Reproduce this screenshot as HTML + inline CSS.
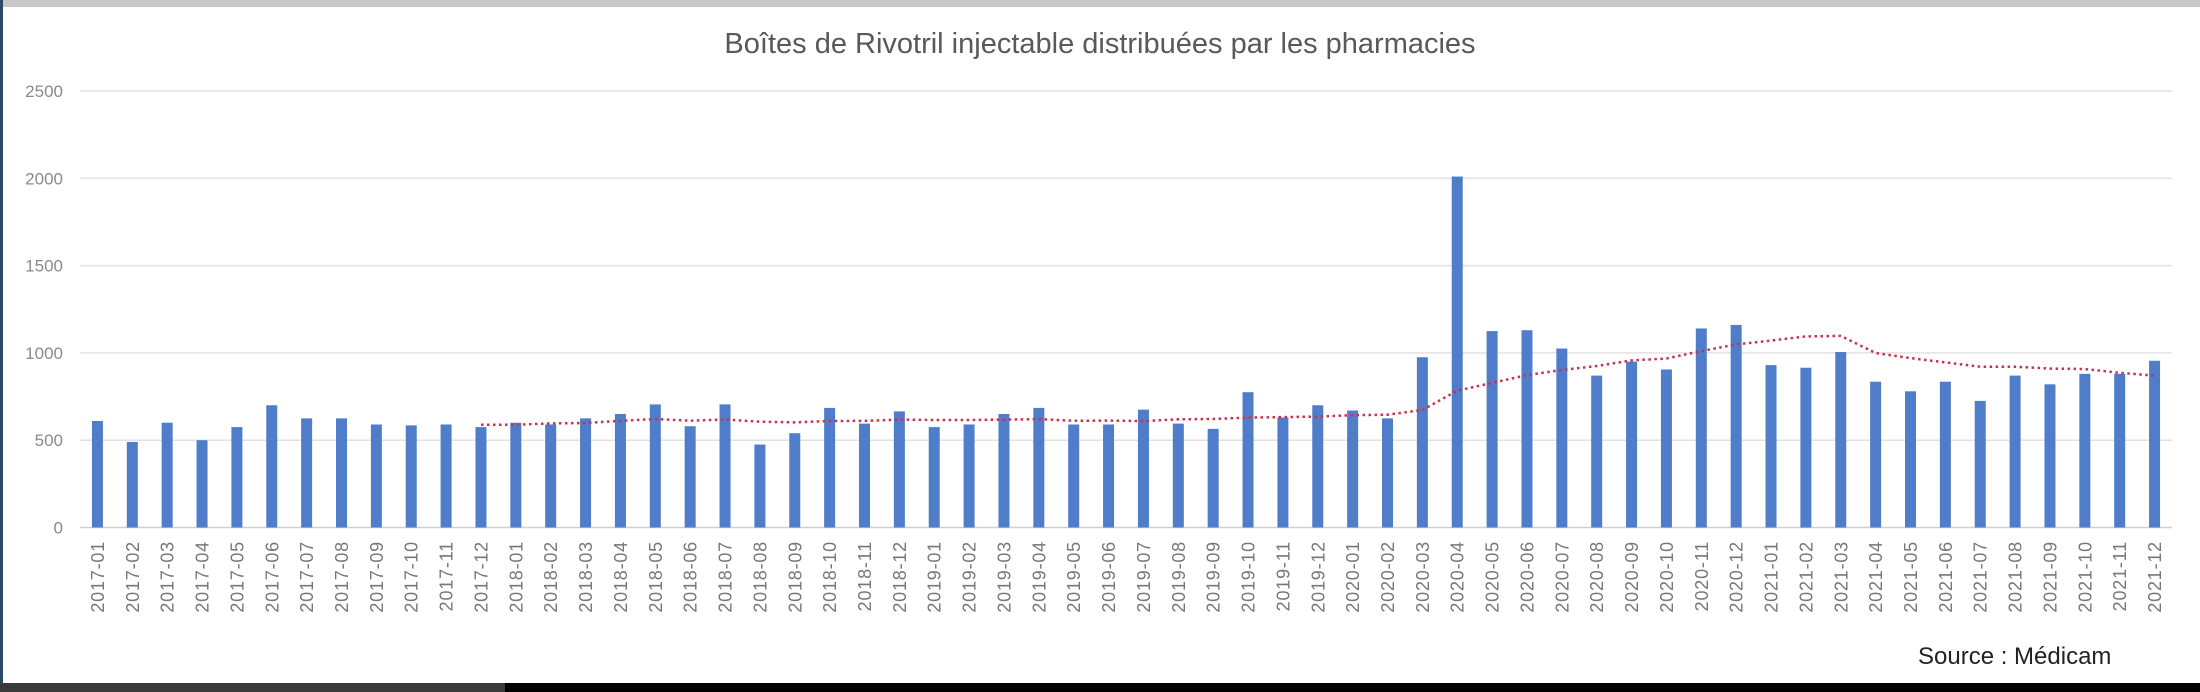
<!DOCTYPE html>
<html><head><meta charset="utf-8"><style>
html,body{margin:0;padding:0;background:#fff;}
body{width:2200px;height:692px;overflow:hidden;position:relative;font-family:"Liberation Sans",sans-serif;}
</style></head><body>
<svg id="c" width="2200" height="692" xmlns="http://www.w3.org/2000/svg" style="position:absolute;left:0;top:0">
<rect x="0" y="0" width="2200" height="692" fill="#fff"/>
<rect x="0" y="0" width="2200" height="7" fill="#c8c8c8"/>
<rect x="0" y="0" width="3" height="692" fill="#2a4a6a"/>
<rect x="0" y="683" width="2200" height="9" fill="#000"/>
<rect x="0" y="683" width="505" height="9" fill="#3a3a3a"/>
<text x="1100" y="53" text-anchor="middle" font-size="29" fill="#595959">Boîtes de Rivotril injectable distribuées par les pharmacies</text>
<g id="g"></g>
<text x="1918" y="664" font-size="24" fill="#222">Source : Médicam</text>
</svg>
<script>
var v=[610,490,600,500,575,700,625,625,590,585,590,575,
600,590,625,650,705,580,705,475,540,685,595,665,
575,590,650,685,590,590,675,595,565,775,630,700,
670,625,975,2010,1125,1130,1025,870,950,905,1140,1160,
930,915,1005,835,780,835,725,870,820,880,880,955];
var X0=80,X1=2172,Y0=527.5,S=87.3/500,W=(X1-X0)/60;
var s='';
for(var k=0;k<=5;k++){var y=Y0-k*500*S;
s+='<line x1="'+X0+'" x2="'+X1+'" y1="'+y+'" y2="'+y+'" stroke="'+(k?'#e2e2e2':'#d0d0d0')+'" stroke-width="1.5"/>';
s+='<text x="63" y="'+(y+6)+'" text-anchor="end" font-size="17" fill="#8a8a8a">'+(k*500)+'</text>';}
for(var i=0;i<60;i++){var cx=X0+W*(i+0.5),h=v[i]*S;
s+='<rect x="'+(cx-5.5)+'" y="'+(Y0-h)+'" width="11" height="'+h+'" fill="#4f7dc9"/>';
var yr=2017+Math.floor(i/12),m=(i%12)+1;
s+='<text transform="translate('+(cx+6.5)+',541) rotate(-90)" text-anchor="end" font-size="18" letter-spacing="0.8" fill="#777">'+yr+'-'+(m<10?'0':'')+m+'</text>';}
var p=[];
for(var i=11;i<60;i++){var a=0;for(var j=i-11;j<=i;j++)a+=v[j];a/=12;p.push((X0+W*(i+0.5)).toFixed(1)+','+(Y0-a*S).toFixed(1));}
s+='<polyline points="'+p.join(' ')+'" fill="none" stroke="#c8324a" stroke-width="2.5" stroke-dasharray="2.5,3.5"/>';
document.getElementById('g').innerHTML=s;
</script>
</body></html>
